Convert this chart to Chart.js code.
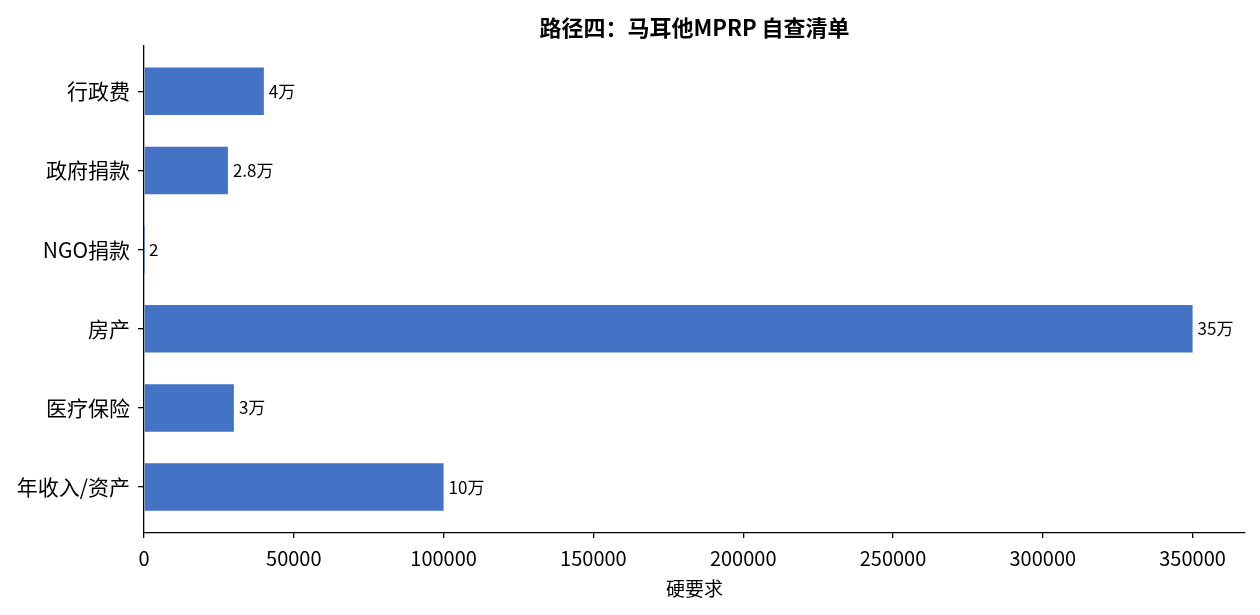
<!DOCTYPE html>
<html>
<head>
<meta charset="utf-8">
<script src="https://cdn.jsdelivr.net/npm/chart.js@4"></script>
<style>
  html, body { margin: 0; padding: 0; background: #fff; }
  #wrap { width: 1260px; height: 615px; }
</style>
</head>
<body>
<div id="wrap"><canvas id="chart"></canvas></div>
<script>
// 数据（从上到下）
const categories = ['行政费', '政府捐款', 'NGO捐款', '房产', '医疗保险', '年收入/资产'];
const values = [40000, 28000, 2, 350000, 30000, 100000];
const valueLabels = ['4万', '2.8万', '2', '35万', '3万', '10万'];
const xTicks = [0, 50000, 100000, 150000, 200000, 250000, 300000, 350000];

const font = '"Noto Sans CJK SC", "Microsoft YaHei", sans-serif';

// 在每个条形末端写数值
const barLabels = {
    id: 'barLabels',
    afterDatasetsDraw(chart) {
        const ctx = chart.ctx;
        const meta = chart.getDatasetMeta(0);
        ctx.save();
        ctx.font = '17px ' + font;
        ctx.fillStyle = '#000';
        ctx.textAlign = 'left';
        ctx.textBaseline = 'middle';
        meta.data.forEach((bar, i) => {
            ctx.fillText(valueLabels[i], bar.x + 5, bar.y);
        });
        ctx.restore();
    }
};

new Chart(document.getElementById('chart'), {
    type: 'bar',
    data: {
        datasets: [{
            data: values.map((v, i) => ({ x: v, y: i })),
            backgroundColor: '#4472C4',
            borderWidth: 0,
            barPercentage: 0.6,
            categoryPercentage: 1
        }]
    },
    plugins: [barLabels],
    options: {
        indexAxis: 'y',
        responsive: true,
        maintainAspectRatio: false,
        animation: false,
        layout: { padding: { left: 0, right: 15, top: 0, bottom: 0 } },
        plugins: {
            legend: { display: false },
            tooltip: { enabled: false },
            title: {
                display: true,
                fullSize: false,
                text: '路径四：马耳他MPRP 自查清单',
                color: '#000',
                font: { family: font, size: 22, weight: 'bold' },
                padding: { top: 14, bottom: 5 }
            }
        },
        scales: {
            x: {
                type: 'linear',
                min: 0,
                max: 367500,
                afterBuildTicks: scale => {
                    scale.ticks = xTicks.map(v => ({ value: v }));
                },
                afterFit: scale => { scale.height = 82; },
                ticks: {
                    color: '#000',
                    font: { family: font, size: 20 },
                    padding: 8,
                    maxRotation: 0,
                    callback: v => String(v)
                },
                grid: { drawOnChartArea: false, drawTicks: true, tickLength: 5, color: '#000', lineWidth: 1.3 },
                border: { display: true, color: '#000', width: 1.3 },
                title: {
                    display: true,
                    text: '硬要求',
                    color: '#000',
                    font: { family: font, size: 19 },
                    padding: { top: 0, bottom: 15 }
                }
            },
            y: {
                type: 'linear',
                min: -0.58,
                max: 5.58,
                reverse: true,
                offset: false,
                afterBuildTicks: scale => {
                    scale.ticks = categories.map((c, i) => ({ value: i }));
                },
                afterFit: scale => { scale.width = 144; },
                ticks: {
                    color: '#000',
                    font: { family: font, size: 21 },
                    padding: 8,
                    callback: v => categories[v]
                },
                grid: { offset: false, drawOnChartArea: false, drawTicks: true, tickLength: 6, color: '#000', lineWidth: 1.3 },
                border: { display: true, color: '#000', width: 1.3 }
            }
        }
    }
});
</script>
</body>
</html>
